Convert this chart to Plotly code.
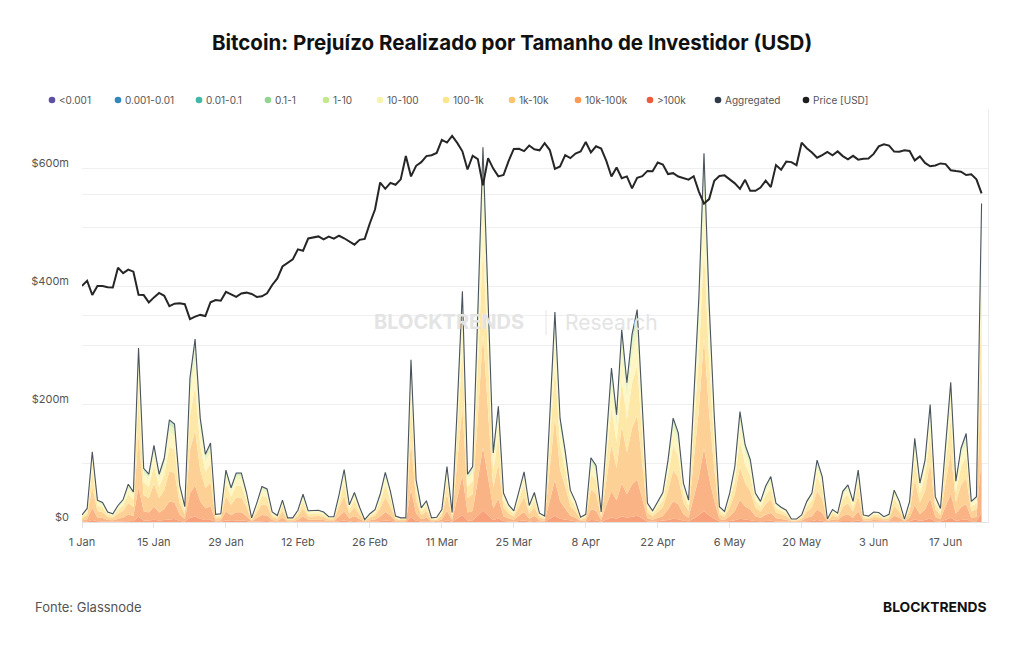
import math
import pandas as pd
import plotly.graph_objects as go

# ---------------- data ----------------
dates = pd.date_range("2024-01-01", "2024-06-24", freq="D")

# Aggregated realized loss, USD millions
aggregated = [12,23,119,37,33,17,14,28,38,64,
              51,295,91,81,130,81,108,173,166,63,
              26,244,310,176,115,134,13,14,88,58,
              83,83,50,7,32,60,56,17,11,37,
              7,7,20,47,19,20,20,17,9,9,
              46,89,29,50,25,4,14,21,47,84,
              52,10,7,7,275,71,24,36,7,8,
              21,94,16,195,391,81,94,355,635,375,
              117,196,49,29,19,52,85,28,50,15,
              10,180,356,176,120,54,35,8,13,109,
              96,17,140,261,182,326,236,318,360,195,
              32,19,35,50,105,176,151,66,37,200,
              380,625,370,180,26,18,49,94,187,131,
              106,49,35,61,77,32,25,20,5,5,
              12,35,49,105,77,5,21,15,52,63,
              35,88,12,10,17,16,9,13,54,35,
              5,35,142,66,105,199,43,23,134,237,
              69,125,150,35,43,540]

# BTC price, USD
price_usd = [44180,44950,42850,44180,44160,43970,43930,46970,46120,46660,
             46340,42890,42840,41800,42510,43150,42740,41280,41620,41670,
             41550,39510,39850,40080,39930,41820,42120,42030,43300,42950,
             42580,43080,43190,43000,42580,42660,43090,44320,45300,47150,
             47770,48290,49950,49700,51800,51940,52160,51660,52120,51780,
             52280,51840,51300,50730,51570,51730,54520,57090,62500,61200,
             62440,62030,63170,68330,63800,66110,66930,68300,68500,69020,
             72120,71480,73080,71400,69400,65300,68390,67610,61940,67840,
             65500,63800,64100,67230,69960,69990,69450,70780,69890,69650,
             71330,69700,65450,65980,68510,67840,68900,69360,71620,69140,
             70590,70060,67200,63770,65740,63400,63800,61280,63510,63840,
             64990,64930,66840,66410,64300,64500,63770,63460,63120,63840,
             60640,58250,59120,62890,63890,64030,63160,62330,61190,63070,
             60790,60790,61450,62900,61550,66270,65230,67050,66940,66270,
             71450,70140,69120,67930,68530,69280,68500,69390,68300,67580,
             68360,67490,67710,67750,68800,70570,71080,70760,69340,69300,
             69650,69500,67320,68240,66750,66010,66190,66640,66490,65140,
             64960,64830,64100,64250,63180,60280]

# Realized loss per cohort (entity size, BTC), USD millions
loss_gt100k = [0.4,0.7,3.6,1.1,1.0,0.5,0.4,0.8,1.1,1.9,
               1.5,8.9,2.7,2.4,3.9,2.4,3.2,5.2,5.0,1.9,
               0.8,7.3,9.3,5.3,3.5,4.0,0.4,0.4,2.6,1.7,
               2.5,2.5,1.5,0.2,1.0,1.8,1.7,0.5,0.3,1.1,
               0.2,0.2,0.6,1.4,0.6,0.6,0.6,0.5,0.3,0.3,
               1.4,2.7,0.9,1.5,0.8,0.1,0.4,0.6,1.4,2.5,
               1.6,0.3,0.2,0.2,8.3,2.1,0.7,1.1,0.2,0.2,
               0.6,2.8,0.5,5.9,11.7,2.4,2.8,10.7,19.1,11.3,
               3.5,5.9,1.5,0.9,0.6,1.6,2.6,0.8,1.5,0.5,
               0.3,5.4,10.7,5.3,3.6,1.6,1.1,0.2,0.4,3.3,
               2.9,0.5,4.2,7.8,5.5,9.8,7.1,9.5,10.8,5.9,
               1.0,0.6,1.1,1.5,3.2,5.3,4.5,2.0,1.1,6.0,
               11.4,18.8,11.1,5.4,0.8,0.5,1.5,2.8,5.6,3.9,
               3.2,1.5,1.1,1.8,2.3,1.0,0.8,0.6,0.2,0.2,
               0.4,1.1,1.5,3.2,2.3,0.2,0.6,0.5,1.6,1.9,
               1.1,2.6,0.4,0.3,0.5,0.5,0.3,0.4,1.6,1.1,
               0.2,1.1,4.3,2.0,3.2,6.0,1.3,0.7,4.0,7.1,
               2.1,3.8,4.5,1.1,1.3,16.2]
loss_10k_100k = [2.0,3.9,20.2,6.3,5.6,2.9,2.4,4.8,6.5,10.9,
                 8.7,50.2,15.5,13.8,22.1,13.8,18.4,29.4,28.2,10.7,
                 4.4,41.5,52.7,29.9,19.6,22.8,2.2,2.4,15.0,9.9,
                 14.1,14.1,8.5,1.2,5.4,10.2,9.5,2.9,1.9,6.3,
                 1.2,1.2,3.4,8.0,3.2,3.4,3.4,2.9,1.5,1.5,
                 7.8,15.1,4.9,8.5,4.3,0.7,2.4,3.6,8.0,14.3,
                 8.8,1.7,1.2,1.2,46.8,12.1,4.1,6.1,1.2,1.4,
                 3.6,16.0,2.7,33.2,66.5,13.8,16.0,60.4,108.0,63.8,
                 19.9,33.3,8.3,4.9,3.2,8.8,14.5,4.8,8.5,2.6,
                 1.7,30.6,60.5,29.9,20.4,9.2,6.0,1.4,2.2,18.5,
                 16.3,2.9,23.8,44.4,30.9,55.4,40.1,54.1,61.2,33.2,
                 5.4,3.2,6.0,8.5,17.9,29.9,25.7,11.2,6.3,34.0,
                 64.6,106.3,62.9,30.6,4.4,3.1,8.3,16.0,31.8,22.3,
                 18.0,8.3,6.0,10.4,13.1,5.4,4.3,3.4,0.9,0.9,
                 2.0,6.0,8.3,17.9,13.1,0.9,3.6,2.6,8.8,10.7,
                 6.0,15.0,2.0,1.7,2.9,2.7,1.5,2.2,9.2,6.0,
                 0.9,6.0,24.1,11.2,17.9,33.8,7.3,3.9,22.8,40.3,
                 11.7,21.3,25.5,6.0,7.3,91.8]
loss_1k_10k = [3.6,6.9,35.7,11.1,9.9,5.1,4.2,8.4,11.4,19.2,
               15.3,88.5,27.3,24.3,39.0,24.3,32.4,51.9,49.8,18.9,
               7.8,73.2,93.0,52.8,34.5,40.2,3.9,4.2,26.4,17.4,
               24.9,24.9,15.0,2.1,9.6,18.0,16.8,5.1,3.3,11.1,
               2.1,2.1,6.0,14.1,5.7,6.0,6.0,5.1,2.7,2.7,
               13.8,26.7,8.7,15.0,7.5,1.2,4.2,6.3,14.1,25.2,
               15.6,3.0,2.1,2.1,82.5,21.3,7.2,10.8,2.1,2.4,
               6.3,28.2,4.8,58.5,117.3,24.3,28.2,106.5,190.5,112.5,
               35.1,58.8,14.7,8.7,5.7,15.6,25.5,8.4,15.0,4.5,
               3.0,54.0,106.8,52.8,36.0,16.2,10.5,2.4,3.9,32.7,
               28.8,5.1,42.0,78.3,54.6,97.8,70.8,95.4,108.0,58.5,
               9.6,5.7,10.5,15.0,31.5,52.8,45.3,19.8,11.1,60.0,
               114.0,187.5,111.0,54.0,7.8,5.4,14.7,28.2,56.1,39.3,
               31.8,14.7,10.5,18.3,23.1,9.6,7.5,6.0,1.5,1.5,
               3.6,10.5,14.7,31.5,23.1,1.5,6.3,4.5,15.6,18.9,
               10.5,26.4,3.6,3.0,5.1,4.8,2.7,3.9,16.2,10.5,
               1.5,10.5,42.6,19.8,31.5,59.7,12.9,6.9,40.2,71.1,
               20.7,37.5,45.0,10.5,12.9,162.0]
loss_100_1k = [2.9,5.5,28.6,8.9,7.9,4.1,3.4,6.7,9.1,15.4,
               12.2,70.8,21.8,19.4,31.2,19.4,25.9,41.5,39.8,15.1,
               6.2,58.6,74.4,42.2,27.6,32.2,3.1,3.4,21.1,13.9,
               19.9,19.9,12.0,1.7,7.7,14.4,13.4,4.1,2.6,8.9,
               1.7,1.7,4.8,11.3,4.6,4.8,4.8,4.1,2.2,2.2,
               11.0,21.4,7.0,12.0,6.0,1.0,3.4,5.0,11.3,20.2,
               12.5,2.4,1.7,1.7,66.0,17.0,5.8,8.6,1.7,1.9,
               5.0,22.6,3.8,46.8,93.8,19.4,22.6,85.2,152.4,90.0,
               28.1,47.0,11.8,7.0,4.6,12.5,20.4,6.7,12.0,3.6,
               2.4,43.2,85.4,42.2,28.8,13.0,8.4,1.9,3.1,26.2,
               23.0,4.1,33.6,62.6,43.7,78.2,56.6,76.3,86.4,46.8,
               7.7,4.6,8.4,12.0,25.2,42.2,36.2,15.8,8.9,48.0,
               91.2,150.0,88.8,43.2,6.2,4.3,11.8,22.6,44.9,31.4,
               25.4,11.8,8.4,14.6,18.5,7.7,6.0,4.8,1.2,1.2,
               2.9,8.4,11.8,25.2,18.5,1.2,5.0,3.6,12.5,15.1,
               8.4,21.1,2.9,2.4,4.1,3.8,2.2,3.1,13.0,8.4,
               1.2,8.4,34.1,15.8,25.2,47.8,10.3,5.5,32.2,56.9,
               16.6,30.0,36.0,8.4,10.3,129.6]
loss_10_100 = [1.7,3.2,16.7,5.2,4.6,2.4,2.0,3.9,5.3,9.0,
               7.1,41.3,12.7,11.3,18.2,11.3,15.1,24.2,23.2,8.8,
               3.6,34.2,43.4,24.6,16.1,18.8,1.8,2.0,12.3,8.1,
               11.6,11.6,7.0,1.0,4.5,8.4,7.8,2.4,1.5,5.2,
               1.0,1.0,2.8,6.6,2.7,2.8,2.8,2.4,1.3,1.3,
               6.4,12.5,4.1,7.0,3.5,0.6,2.0,2.9,6.6,11.8,
               7.3,1.4,1.0,1.0,38.5,9.9,3.4,5.0,1.0,1.1,
               2.9,13.2,2.2,27.3,54.7,11.3,13.2,49.7,88.9,52.5,
               16.4,27.4,6.9,4.1,2.7,7.3,11.9,3.9,7.0,2.1,
               1.4,25.2,49.8,24.6,16.8,7.6,4.9,1.1,1.8,15.3,
               13.4,2.4,19.6,36.5,25.5,45.6,33.0,44.5,50.4,27.3,
               4.5,2.7,4.9,7.0,14.7,24.6,21.1,9.2,5.2,28.0,
               53.2,87.5,51.8,25.2,3.6,2.5,6.9,13.2,26.2,18.3,
               14.8,6.9,4.9,8.5,10.8,4.5,3.5,2.8,0.7,0.7,
               1.7,4.9,6.9,14.7,10.8,0.7,2.9,2.1,7.3,8.8,
               4.9,12.3,1.7,1.4,2.4,2.2,1.3,1.8,7.6,4.9,
               0.7,4.9,19.9,9.2,14.7,27.9,6.0,3.2,18.8,33.2,
               9.7,17.5,21.0,4.9,6.0,75.6]
loss_1_10 = [0.8,1.6,8.3,2.6,2.3,1.2,1.0,2.0,2.7,4.5,
             3.6,20.7,6.4,5.7,9.1,5.7,7.6,12.1,11.6,4.4,
             1.8,17.1,21.7,12.3,8.1,9.4,0.9,1.0,6.2,4.1,
             5.8,5.8,3.5,0.5,2.2,4.2,3.9,1.2,0.8,2.6,
             0.5,0.5,1.4,3.3,1.3,1.4,1.4,1.2,0.6,0.6,
             3.2,6.2,2.0,3.5,1.8,0.3,1.0,1.5,3.3,5.9,
             3.6,0.7,0.5,0.5,19.3,5.0,1.7,2.5,0.5,0.6,
             1.5,6.6,1.1,13.7,27.4,5.7,6.6,24.9,44.5,26.3,
             8.2,13.7,3.4,2.0,1.3,3.6,6.0,2.0,3.5,1.1,
             0.7,12.6,24.9,12.3,8.4,3.8,2.5,0.6,0.9,7.6,
             6.7,1.2,9.8,18.3,12.7,22.8,16.5,22.3,25.2,13.7,
             2.2,1.3,2.5,3.5,7.4,12.3,10.6,4.6,2.6,14.0,
             26.6,43.8,25.9,12.6,1.8,1.3,3.4,6.6,13.1,9.2,
             7.4,3.4,2.5,4.3,5.4,2.2,1.8,1.4,0.4,0.4,
             0.8,2.5,3.4,7.4,5.4,0.4,1.5,1.1,3.6,4.4,
             2.5,6.2,0.8,0.7,1.2,1.1,0.6,0.9,3.8,2.5,
             0.4,2.5,9.9,4.6,7.4,13.9,3.0,1.6,9.4,16.6,
             4.8,8.8,10.5,2.5,3.0,37.8]
loss_01_1 = [0.4,0.8,4.2,1.3,1.2,0.6,0.5,1.0,1.3,2.2,
             1.8,10.3,3.2,2.8,4.6,2.8,3.8,6.1,5.8,2.2,
             0.9,8.5,10.9,6.2,4.0,4.7,0.5,0.5,3.1,2.0,
             2.9,2.9,1.8,0.2,1.1,2.1,2.0,0.6,0.4,1.3,
             0.2,0.2,0.7,1.6,0.7,0.7,0.7,0.6,0.3,0.3,
             1.6,3.1,1.0,1.8,0.9,0.1,0.5,0.7,1.6,2.9,
             1.8,0.4,0.2,0.2,9.6,2.5,0.8,1.3,0.2,0.3,
             0.7,3.3,0.6,6.8,13.7,2.8,3.3,12.4,22.2,13.1,
             4.1,6.9,1.7,1.0,0.7,1.8,3.0,1.0,1.8,0.5,
             0.4,6.3,12.5,6.2,4.2,1.9,1.2,0.3,0.5,3.8,
             3.4,0.6,4.9,9.1,6.4,11.4,8.3,11.1,12.6,6.8,
             1.1,0.7,1.2,1.8,3.7,6.2,5.3,2.3,1.3,7.0,
             13.3,21.9,13.0,6.3,0.9,0.6,1.7,3.3,6.5,4.6,
             3.7,1.7,1.2,2.1,2.7,1.1,0.9,0.7,0.2,0.2,
             0.4,1.2,1.7,3.7,2.7,0.2,0.7,0.5,1.8,2.2,
             1.2,3.1,0.4,0.4,0.6,0.6,0.3,0.5,1.9,1.2,
             0.2,1.2,5.0,2.3,3.7,7.0,1.5,0.8,4.7,8.3,
             2.4,4.4,5.3,1.2,1.5,18.9]
loss_001_01 = [0.1,0.2,1.2,0.4,0.3,0.2,0.1,0.3,0.4,0.6,
               0.5,3.0,0.9,0.8,1.3,0.8,1.1,1.7,1.7,0.6,
               0.3,2.4,3.1,1.8,1.2,1.3,0.1,0.1,0.9,0.6,
               0.8,0.8,0.5,0.1,0.3,0.6,0.6,0.2,0.1,0.4,
               0.1,0.1,0.2,0.5,0.2,0.2,0.2,0.2,0.1,0.1,
               0.5,0.9,0.3,0.5,0.3,0.0,0.1,0.2,0.5,0.8,
               0.5,0.1,0.1,0.1,2.8,0.7,0.2,0.4,0.1,0.1,
               0.2,0.9,0.2,2.0,3.9,0.8,0.9,3.6,6.4,3.8,
               1.2,2.0,0.5,0.3,0.2,0.5,0.9,0.3,0.5,0.2,
               0.1,1.8,3.6,1.8,1.2,0.5,0.4,0.1,0.1,1.1,
               1.0,0.2,1.4,2.6,1.8,3.3,2.4,3.2,3.6,2.0,
               0.3,0.2,0.4,0.5,1.1,1.8,1.5,0.7,0.4,2.0,
               3.8,6.3,3.7,1.8,0.3,0.2,0.5,0.9,1.9,1.3,
               1.1,0.5,0.4,0.6,0.8,0.3,0.3,0.2,0.1,0.1,
               0.1,0.4,0.5,1.1,0.8,0.1,0.2,0.2,0.5,0.6,
               0.4,0.9,0.1,0.1,0.2,0.2,0.1,0.1,0.5,0.4,
               0.1,0.4,1.4,0.7,1.1,2.0,0.4,0.2,1.3,2.4,
               0.7,1.3,1.5,0.4,0.4,5.4]
loss_0001_001 = [0.05,0.09,0.48,0.15,0.13,0.07,0.06,0.11,0.15,0.26,
                 0.20,1.18,0.36,0.32,0.52,0.32,0.43,0.69,0.66,0.25,
                 0.10,0.98,1.24,0.70,0.46,0.54,0.05,0.06,0.35,0.23,
                 0.33,0.33,0.20,0.03,0.13,0.24,0.22,0.07,0.04,0.15,
                 0.03,0.03,0.08,0.19,0.08,0.08,0.08,0.07,0.04,0.04,
                 0.18,0.36,0.12,0.20,0.10,0.02,0.06,0.08,0.19,0.34,
                 0.21,0.04,0.03,0.03,1.10,0.28,0.10,0.14,0.03,0.03,
                 0.08,0.38,0.06,0.78,1.56,0.32,0.38,1.42,2.54,1.50,
                 0.47,0.78,0.20,0.12,0.08,0.21,0.34,0.11,0.20,0.06,
                 0.04,0.72,1.42,0.70,0.48,0.22,0.14,0.03,0.05,0.44,
                 0.38,0.07,0.56,1.04,0.73,1.30,0.94,1.27,1.44,0.78,
                 0.13,0.08,0.14,0.20,0.42,0.70,0.60,0.26,0.15,0.80,
                 1.52,2.50,1.48,0.72,0.10,0.07,0.20,0.38,0.75,0.52,
                 0.42,0.20,0.14,0.24,0.31,0.13,0.10,0.08,0.02,0.02,
                 0.05,0.14,0.20,0.42,0.31,0.02,0.08,0.06,0.21,0.25,
                 0.14,0.35,0.05,0.04,0.07,0.06,0.04,0.05,0.22,0.14,
                 0.02,0.14,0.57,0.26,0.42,0.80,0.17,0.09,0.54,0.95,
                 0.28,0.50,0.60,0.14,0.17,2.16]
loss_lt0001 = [0.01,0.02,0.12,0.04,0.03,0.02,0.01,0.03,0.04,0.06,
               0.05,0.30,0.09,0.08,0.13,0.08,0.11,0.17,0.17,0.06,
               0.03,0.24,0.31,0.18,0.12,0.13,0.01,0.01,0.09,0.06,
               0.08,0.08,0.05,0.01,0.03,0.06,0.06,0.02,0.01,0.04,
               0.01,0.01,0.02,0.05,0.02,0.02,0.02,0.02,0.01,0.01,
               0.05,0.09,0.03,0.05,0.03,0.00,0.01,0.02,0.05,0.08,
               0.05,0.01,0.01,0.01,0.28,0.07,0.02,0.04,0.01,0.01,
               0.02,0.09,0.02,0.20,0.39,0.08,0.09,0.36,0.64,0.38,
               0.12,0.20,0.05,0.03,0.02,0.05,0.09,0.03,0.05,0.02,
               0.01,0.18,0.36,0.18,0.12,0.05,0.04,0.01,0.01,0.11,
               0.10,0.02,0.14,0.26,0.18,0.33,0.24,0.32,0.36,0.20,
               0.03,0.02,0.04,0.05,0.11,0.18,0.15,0.07,0.04,0.20,
               0.38,0.63,0.37,0.18,0.03,0.02,0.05,0.09,0.19,0.13,
               0.11,0.05,0.04,0.06,0.08,0.03,0.03,0.02,0.01,0.01,
               0.01,0.04,0.05,0.11,0.08,0.01,0.02,0.02,0.05,0.06,
               0.04,0.09,0.01,0.01,0.02,0.02,0.01,0.01,0.05,0.04,
               0.01,0.04,0.14,0.07,0.11,0.20,0.04,0.02,0.13,0.24,
               0.07,0.13,0.15,0.04,0.04,0.54]

cohort_labels = ["<0.001", "0.001-0.01", "0.01-0.1", "0.1-1", "1-10",
                 "10-100", "100-1k", "1k-10k", "10k-100k", ">100k"]
cohort_values = [loss_lt0001, loss_0001_001, loss_001_01, loss_01_1, loss_1_10,
                 loss_10_100, loss_100_1k, loss_1k_10k, loss_10k_100k, loss_gt100k]

y_tickvals = [0, 100, 200, 300, 400, 500, 600, 700]
y_ticktext = ["$0", "", "$200m", "", "$400m", "", "$600m", ""]

# ---------------- styles ----------------
legend_dot_colors = ["#5e4fa2", "#3288bd", "#3fb8a6", "#94d492", "#c6e88d",
                     "#f8f4b0", "#fde58b", "#fdc470", "#f99b55", "#ef5a3c"]
fill_colors = ["#a69ccc", "#8fbfe0", "#a9dcc6", "#d0eac0", "#edf6c2",
               "#fff6c4", "#fee8a8", "#fdd095", "#fab384", "#f7a07a"]
agg_color = "#4a535e"
price_color = "#262626"
grid_color = "#efefef"
FONT = "Inter, Roboto, sans-serif"

fig = go.Figure()

# stacked areas, bottom = largest entities
for name, vals, fc in reversed(list(zip(cohort_labels, cohort_values, fill_colors))):
    fig.add_trace(go.Scatter(
        x=dates, y=vals, name=name, stackgroup="loss", mode="lines",
        line=dict(width=0, color=fc), fillcolor=fc, showlegend=False,
    ))

fig.add_trace(go.Scatter(
    x=dates, y=aggregated, name="Aggregated", mode="lines",
    line=dict(color=agg_color, width=1.1), showlegend=False,
))

fig.add_trace(go.Scatter(
    x=dates, y=price_usd, name="Price [USD]", mode="lines", yaxis="y2",
    line=dict(color=price_color, width=2), showlegend=False,
))

W, H = 1024, 645
ML, MR, MT, MB = 82, 36, 109, 123
PW, PH = W - ML - MR, H - MT - MB

def px_x(px):
    return (px - ML) / PW

def px_y(py):
    return (H - MB - py) / PH

# manual legend (dot + label)
legend_labels = cohort_labels + ["Aggregated", "Price [USD]"]
legend_colors = legend_dot_colors + ["#2f3a48", "#1e1e1e"]
legend_dot_px = [52, 118, 199, 268, 326, 380, 446, 512, 578, 650, 718, 806]
shapes = []
annotations = []
for lab, col, xp in zip(legend_labels, legend_colors, legend_dot_px):
    shapes.append(dict(type="circle", xref="paper", yref="paper",
                       xsizemode="pixel", ysizemode="pixel",
                       xanchor=px_x(xp), yanchor=px_y(100),
                       x0=-3.3, x1=3.3, y0=-3.3, y1=3.3,
                       fillcolor=col, line=dict(width=0)))
    annotations.append(dict(text=lab, xref="paper", yref="paper",
                            x=px_x(xp + 5), y=px_y(100), xanchor="left", yanchor="middle",
                            showarrow=False, font=dict(family=FONT, size=10, color="#555555")))

# watermark
annotations.append(dict(text="<b>BLOCKTRENDS</b>", xref="paper", yref="paper",
                        x=px_x(449), y=px_y(322), xanchor="center", yanchor="middle",
                        showarrow=False, font=dict(family=FONT, size=20, color="#e4e4e4")))
annotations.append(dict(text="Research", xref="paper", yref="paper",
                        x=px_x(611), y=px_y(322), xanchor="center", yanchor="middle",
                        showarrow=False, font=dict(family=FONT, size=21, color="#e4e4e4")))
shapes.append(dict(type="line", xref="paper", yref="paper",
                   x0=px_x(546), x1=px_x(546), y0=px_y(310), y1=px_y(335),
                   line=dict(color="#e4e4e4", width=1)))

# footer
annotations.append(dict(text="Fonte: Glassnode", xref="paper", yref="paper",
                        x=px_x(33), y=px_y(607), xanchor="left", yanchor="middle",
                        showarrow=False, font=dict(family=FONT, size=13, color="#555555")))
annotations.append(dict(text="<b>BLOCKTRENDS</b>", xref="paper", yref="paper",
                        x=px_x(988), y=px_y(607), xanchor="right", yanchor="middle",
                        showarrow=False, font=dict(family=FONT, size=13.8, color="#111111")))

fig.update_layout(
    width=W, height=H,
    margin=dict(l=ML, r=MR, t=MT, b=MB),
    paper_bgcolor="white", plot_bgcolor="white",
    font=dict(family=FONT, color="#555555"),
    title=dict(text="<b>Bitcoin: Prejuízo Realizado por Tamanho de Investidor (USD)</b>",
               x=0.5, xanchor="center", xref="container",
               y=1 - 43 / H, yanchor="middle", yref="container",
               font=dict(family=FONT, size=20.5, color="#111111")),
    showlegend=False,
    xaxis=dict(
        type="date",
        range=["2024-01-01", "2024-06-25 06:00"],
        tick0="2024-01-01", dtick=14 * 86400000, tickformat="%-d %b",
        showgrid=False, zeroline=False,
        showline=True, linecolor="#e3e3e3", linewidth=1,
        ticks="outside", ticklen=5, tickcolor="#e3e3e3",
        ticklabelstandoff=5,
        tickfont=dict(family=FONT, size=11, color="#555555"),
    ),
    yaxis=dict(
        range=[0, 700], tickvals=y_tickvals, ticktext=y_ticktext,
        showgrid=True, gridcolor=grid_color, gridwidth=1,
        zeroline=False, showline=False, ticks="",
        ticklabelstandoff=12, ticklabelshift=-5,
        tickfont=dict(family=FONT, size=11, color="#555555"),
    ),
    yaxis2=dict(
        overlaying="y", side="right", type="log",
        range=[math.log10(20000), math.log10(80000)],
        tickvals=[20000, 40000, 60000, 80000], showticklabels=False,
        showgrid=True, gridcolor=grid_color, gridwidth=1,
        zeroline=False, showline=True, linecolor="#ececec", ticks="",
    ),
    shapes=shapes,
    annotations=annotations,
)

fig.write_html("out.html")
